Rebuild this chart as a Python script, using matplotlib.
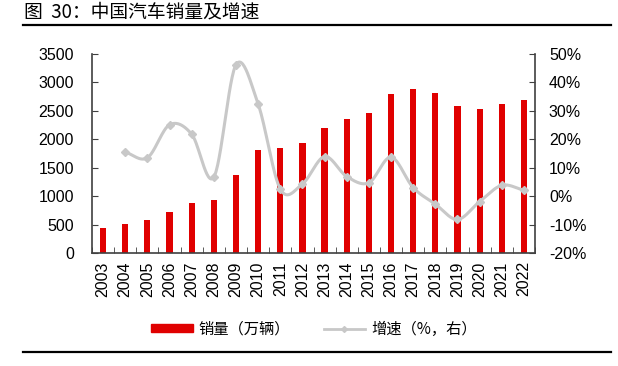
import numpy as np
import matplotlib
matplotlib.use("Agg")
import matplotlib.pyplot as plt
from matplotlib.lines import Line2D
from matplotlib.patches import Patch

plt.rcParams['font.family'] = ['Liberation Sans', 'Noto Sans CJK SC', 'DejaVu Sans']

years = ['2003', '2004', '2005', '2006', '2007', '2008', '2009', '2010', '2011', '2012',
         '2013', '2014', '2015', '2016', '2017', '2018', '2019', '2020', '2021', '2022']
sales = [439, 507, 576, 722, 879, 938, 1364, 1806, 1851, 1931,
         2198, 2349, 2460, 2803, 2888, 2808, 2577, 2531, 2627, 2686]
growth = [None, 15.5, 13.5, 25.1, 21.8, 6.7, 46.2, 32.4, 2.5, 4.3,
          13.9, 6.9, 4.7, 13.7, 3.0, -2.8, -8.2, -1.9, 3.8, 2.1]

title = '图  30：中国汽车销量及增速'
left_ticks = [0, 500, 1000, 1500, 2000, 2500, 3000, 3500]
right_ticks = [-20, -10, 0, 10, 20, 30, 40, 50]

RED = '#E00000'
GRAY = '#C8C8C8'
AX = '#404040'

fig = plt.figure(figsize=(6.18, 3.66), dpi=100)
ax = fig.add_axes([92/618, 1-253/366, (535-92)/618, (253-54)/366])
x = np.arange(len(years))
ax.bar(x, sales, width=0.28, color=RED, zorder=2)
ax.set_xlim(-0.5, len(years) - 0.5)
ax.set_ylim(0, 3500)
ax.set_yticks(left_ticks)
ax.set_yticklabels([str(v) for v in left_ticks], fontsize=11.5)
ax.set_xticks(x)
ax.set_xticklabels(years, rotation=90, fontsize=11.5)
ax.tick_params(axis='x', length=0, pad=6)
ax.set_xticks(np.arange(-0.5, len(years), 1), minor=True)
ax.tick_params(axis='x', which='minor', direction='in', length=4, color=AX)
ax.tick_params(axis='y', direction='in', length=4, color=AX, pad=13)
for s in ['top', 'right']:
    ax.spines[s].set_visible(False)
for s in ['left', 'bottom']:
    ax.spines[s].set_color(AX)
    ax.spines[s].set_linewidth(1.2)

ax2 = ax.twinx()
ax2.set_ylim(-20, 50)
ax2.set_yticks(right_ticks)
ax2.set_yticklabels([f'{v}%' for v in right_ticks], fontsize=11.5)
ax2.tick_params(axis='y', direction='in', length=4, color=AX, pad=10)
for s in ['top', 'left', 'bottom']:
    ax2.spines[s].set_visible(False)
ax2.spines['right'].set_color(AX)
ax2.spines['right'].set_linewidth(1.2)

# smooth curve (Catmull-Rom through data points)
gx = np.array([i for i, g in enumerate(growth) if g is not None], float)
gy = np.array([g for g in growth if g is not None], float)
px = np.concatenate([[2*gx[0]-gx[1]], gx, [2*gx[-1]-gx[-2]]])
py = np.concatenate([[2*gy[0]-gy[1]], gy, [2*gy[-1]-gy[-2]]])
sx, sy = [], []
t = np.linspace(0, 1, 30)
def cr(a0, a1, a2, a3):
    return 0.5*((2*a1) + (-a0+a2)*t + (2*a0-5*a1+4*a2-a3)*t**2 + (-a0+3*a1-3*a2+a3)*t**3)
for i in range(1, len(px) - 2):
    sx.extend(cr(px[i-1], px[i], px[i+1], px[i+2]))
    sy.extend(cr(py[i-1], py[i], py[i+1], py[i+2]))
ax2.plot(sx, sy, color=GRAY, lw=2.2, zorder=3)
ax2.plot(gx, gy, ls='none', marker='D', ms=4, color=GRAY, zorder=4)

# title and rules
fig.text(24/618, 1-12/366, title, fontsize=13.5, va='center', ha='left',
         family=['Noto Sans CJK SC', 'DejaVu Sans'])
fig.add_artist(Line2D([23/618, 611/618], [1-24.5/366]*2, color='black', lw=1.6))
fig.add_artist(Line2D([23/618, 611/618], [1-352/366]*2, color='black', lw=1.6))

handles = [Patch(color=RED),
           Line2D([0], [0], color=GRAY, lw=2, marker='D', ms=3)]
leg = fig.legend(handles, ['销量（万辆）', '增速（%，右）'], loc='center',
                 bbox_to_anchor=(314/618, 1-329/366), ncol=2, frameon=False,
                 prop={'family': ['Noto Sans CJK SC', 'DejaVu Sans'], 'size': 11},
                 handlelength=2.7, handleheight=0.5, columnspacing=2.2, handletextpad=0.4)

fig.savefig('out.png', dpi=100)
